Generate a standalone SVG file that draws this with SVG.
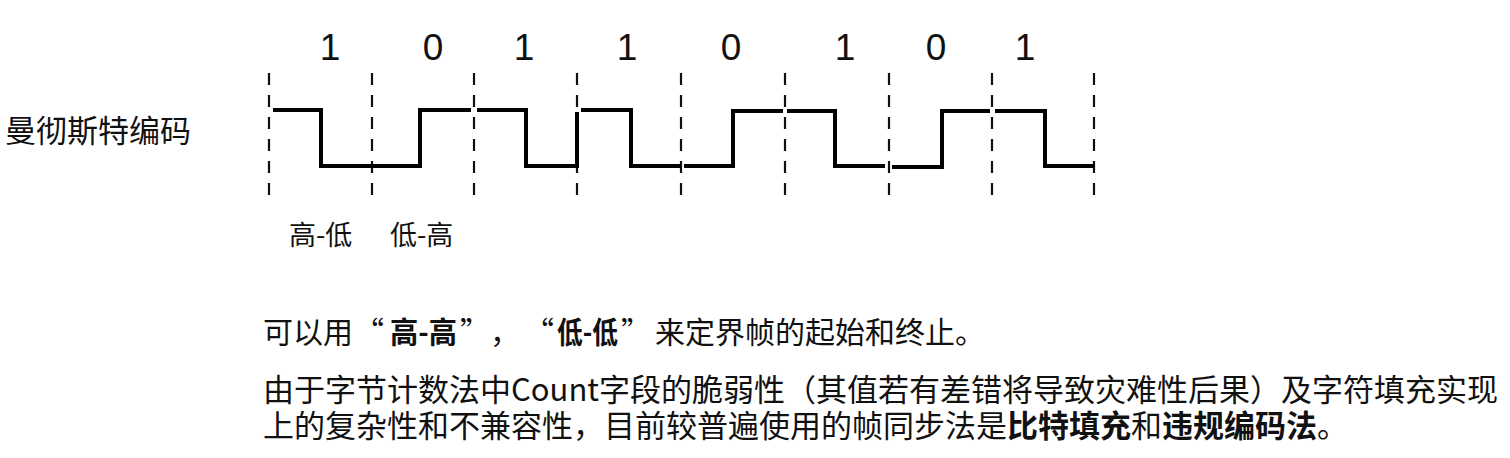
<svg xmlns="http://www.w3.org/2000/svg" width="1510" height="458" viewBox="0 0 1510 458">
<style>
.t{font-family:"Noto Sans CJK SC","Liberation Sans",sans-serif;fill:#111}
.d{font-family:"Liberation Sans","Noto Sans",sans-serif;font-size:37px;fill:#111;text-anchor:middle}
.dash{stroke:#111;stroke-width:2.2;stroke-dasharray:12 10}
.w{fill:none;stroke:#000;stroke-width:4;stroke-linejoin:miter;stroke-linecap:butt}
.b{font-weight:bold}
</style>
<rect width="1510" height="458" fill="#fff"/>
<g id="bits">
<text class="d" x="330" y="60">1</text>
<text class="d" x="433" y="60">0</text>
<text class="d" x="524" y="60">1</text>
<text class="d" x="627" y="60">1</text>
<text class="d" x="731" y="60">0</text>
<text class="d" x="845" y="60">1</text>
<text class="d" x="936" y="60">0</text>
<text class="d" x="1025" y="60">1</text>
</g>
<g id="label"><text class="t" x="5" y="142" font-size="31">曼彻斯特编码</text></g>
<g id="gridlines">
<line class="dash" x1="269" y1="73" x2="269" y2="196"/>
<line class="dash" x1="372" y1="73" x2="372" y2="196"/>
<line class="dash" x1="474" y1="73" x2="474" y2="196"/>
<line class="dash" x1="577" y1="73" x2="577" y2="196"/>
<line class="dash" x1="681" y1="73" x2="681" y2="196"/>
<line class="dash" x1="785" y1="73" x2="785" y2="196"/>
<line class="dash" x1="889" y1="73" x2="889" y2="196"/>
<line class="dash" x1="992" y1="73" x2="992" y2="196"/>
<line class="dash" x1="1094" y1="73" x2="1094" y2="196"/>
</g>
<g id="waveform">
<path class="w" d="M273,110 H321 V166 H372"/>
<path class="w" d="M372,166 H420 V110 H471"/>
<path class="w" d="M477,110 H526 V166 H577 V112"/>
<path class="w" d="M581,110 H631 V166 H681"/>
<path class="w" d="M684,166 H733 V111 H783"/>
<path class="w" d="M787,111 H835 V166 H885"/>
<path class="w" d="M892,167 H942 V111 H990"/>
<path class="w" d="M995,111 H1045 V166 H1094"/>
</g>
<g id="levels">
<text class="t" x="289" y="245" font-size="27">高-低</text>
<text class="t" x="390" y="245" font-size="27">低-高</text>
</g>
<g id="notes">
<text class="t" y="343" font-size="30"><tspan x="263">可以用</tspan><tspan x="354">“</tspan><tspan x="390" class="b" textLength="67" lengthAdjust="spacingAndGlyphs">高-高</tspan><tspan x="460">”</tspan><tspan x="490">，</tspan><tspan x="524">“</tspan><tspan x="557" class="b" textLength="61" lengthAdjust="spacingAndGlyphs">低-低</tspan><tspan x="621">”</tspan><tspan x="655">来定界帧的起始和终止。</tspan></text>
<text class="t" x="263" y="401" font-size="31">由于字节计数法中Count字段的脆弱性（其值若有差错将导致灾难性后果）及字符填充实现</text>
<text class="t" x="263" y="437" font-size="31">上的复杂性和不兼容性，目前较普遍使用的帧同步法是<tspan class="b">比特填充</tspan>和<tspan class="b">违规编码法</tspan>。</text>
</g>
</svg>
